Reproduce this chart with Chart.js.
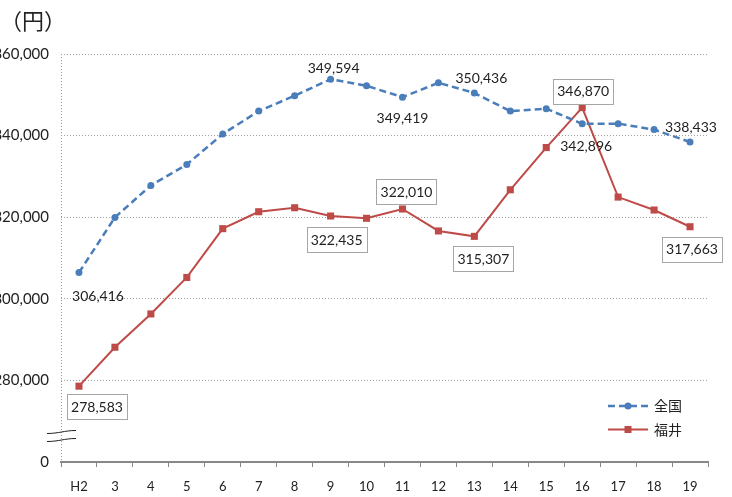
<!DOCTYPE html>
<html>
<head>
<meta charset="utf-8">
<script src="https://cdn.jsdelivr.net/npm/chart.js@4/dist/chart.umd.min.js"></script>
<style>
  html, body { margin:0; padding:0; background:#fff; }
  #wrap { position:relative; width:732px; height:497px; overflow:hidden; }
  #chart { position:absolute; left:0; top:0; }
  #unit { position:absolute; left:0; top:8px; font:22px/22px "Noto Sans CJK JP", sans-serif; color:#222; }
</style>
</head>
<body>
<div id="wrap">
  <canvas id="chart" width="732" height="497"></canvas>
  <div id="unit">（円）</div>
</div>
<script>
const categories = ['H2','3','4','5','6','7','8','9','10','11','12','13','14','15','16','17','18','19'];

// 全国 / 福井
const zenkokuValues = [306416, 319950, 327790, 332920, 340390, 346000, 349770, 353820, 352210, 349419, 352940, 350436, 346000, 346590, 342896, 342930, 341465, 338433];
const fukuiValues   = [278583, 288130, 296290, 305230, 317190, 321340, 322320, 320290, 319730, 322010, 316630, 315307, 326720, 337070, 346870, 324930, 321760, 317663];

// value labels shown on the chart (null = none)
const zenkokuTags = [306416, null, null, null, null, null, null, 349594, null, 349419, null, 350436, null, null, 342896, null, null, 338433];
const fukuiTags   = [278583, null, null, null, null, null, null, 322435, null, 322010, null, 315307, null, null, 346870, null, null, 317663];

const yTicks = [260000, 280000, 300000, 320000, 340000, 360000];

const BLUE = '#4A7EBB';
const RED  = '#BE4B48';

// label offsets from their point, in px
const tagOffsets = [
  { 0:[19,23], 7:[3,-12], 9:[0,20], 11:[7,-16], 14:[4,22], 17:[1,-16] },
  { 0:[18,20], 7:[6,23], 9:[4,-18], 11:[9,22], 14:[1,-17], 17:[2,22] }
];

Chart.defaults.font.family = 'Lato, "DejaVu Sans", sans-serif';
Chart.defaults.color = '#222';

const tagPlugin = {
  id: 'tags',
  afterDatasetsDraw(chart) {
    const ctx = chart.ctx;
    ctx.save();
    ctx.font = '14px Lato, "DejaVu Sans", sans-serif';
    ctx.textAlign = 'center';
    ctx.textBaseline = 'middle';
    chart.data.datasets.forEach((ds, di) => {
      const meta = chart.getDatasetMeta(di);
      ds.tags.forEach((t, i) => {
        if (t == null) return;
        const pt = meta.data[i];
        const off = tagOffsets[di][i] || [0, -15];
        const x = pt.x + off[0], y = pt.y + off[1];
        const txt = t.toLocaleString('en-US');
        if (ds.boxed) {
          ctx.fillStyle = '#fff';
          ctx.fillRect(x - 30, y - 12, 60, 25);
          ctx.strokeStyle = '#a6a6a6';
          ctx.lineWidth = 1;
          ctx.strokeRect(Math.round(x - 30) + 0.5, Math.round(y - 12) + 0.5, 60, 25);
        }
        ctx.fillStyle = '#222';
        ctx.fillText(txt, x, y + 1);
      });
    });
    ctx.restore();
  }
};

const decorPlugin = {
  id: 'decor',
  beforeDatasetsDraw(chart) {
    const { ctx, chartArea } = chart;
    // dotted value axis
    ctx.save();
    ctx.strokeStyle = '#999';
    ctx.lineWidth = 1;
    ctx.setLineDash([1, 2]);
    ctx.beginPath();
    ctx.moveTo(chartArea.left + 0.5, chartArea.top);
    ctx.lineTo(chartArea.left + 0.5, chartArea.bottom);
    ctx.stroke();
    ctx.restore();
  },
  afterDraw(chart) {
    const { ctx, chartArea } = chart;
    ctx.save();
    // axis break marks
    const l = chartArea.left - 14, r = chartArea.left + 15;
    [chartArea.bottom - 30, chartArea.bottom - 22].forEach(y => {
      ctx.strokeStyle = '#222';
      ctx.lineWidth = 1;
      ctx.beginPath();
      ctx.moveTo(l, y + 1.5);
      ctx.bezierCurveTo(l + 12, y + 1.5, l + 17, y - 1.5, r, y - 1.5);
      ctx.stroke();
    });
    // legend
    const lx = chartArea.right - 100;
    chart.data.datasets.forEach((ds, i) => {
      const y = chartArea.bottom - 56 + i * 23.5;
      ctx.strokeStyle = ds.borderColor;
      ctx.lineWidth = ds.borderWidth;
      ctx.setLineDash(ds.borderDash || []);
      ctx.beginPath();
      ctx.moveTo(lx, y);
      ctx.lineTo(lx + 40, y);
      ctx.stroke();
      ctx.setLineDash([]);
      ctx.fillStyle = ds.borderColor;
      if (ds.pointStyle === 'rect') {
        ctx.fillRect(lx + 16.5, y - 3.5, 7, 7);
      } else {
        ctx.beginPath();
        ctx.arc(lx + 20, y, 3.5, 0, Math.PI * 2);
        ctx.fill();
      }
      ctx.fillStyle = '#222';
      ctx.font = '14px "Noto Sans CJK JP", sans-serif';
      ctx.textBaseline = 'middle';
      ctx.textAlign = 'left';
      ctx.fillText(ds.label, lx + 46, y);
    });
    ctx.restore();
  }
};

new Chart(document.getElementById('chart'), {
  type: 'line',
  data: {
    labels: categories,
    datasets: [
      {
        label: '全国',
        data: zenkokuValues,
        tags: zenkokuTags,
        boxed: false,
        borderColor: BLUE,
        backgroundColor: BLUE,
        borderWidth: 2.5,
        borderDash: [7, 4],
        pointStyle: 'circle',
        pointRadius: 3.5,
        pointBorderWidth: 0,
        tension: 0
      },
      {
        label: '福井',
        data: fukuiValues,
        tags: fukuiTags,
        boxed: true,
        borderColor: RED,
        backgroundColor: RED,
        borderWidth: 2,
        pointStyle: 'rect',
        pointRadius: 5,
        pointBorderWidth: 0,
        tension: 0
      }
    ]
  },
  options: {
    responsive: false,
    animation: false,
    layout: { padding: { top: 54, right: 24, left: 0, bottom: 0 } },
    plugins: { legend: { display: false }, tooltip: { enabled: false } },
    scales: {
      x: {
        offset: true,
        grid: { offset: true, drawOnChartArea: false, drawTicks: true, tickLength: 5, color: '#888', lineWidth: 1 },
        border: { color: '#888', width: 2 },
        ticks: { padding: 12, font: { size: 13, family: '"Liberation Sans Narrow", Lato, sans-serif' }, color: '#222' },
        afterFit: s => { s.height = 35; }
      },
      y: {
        min: 260000,
        max: 360000,
        afterBuildTicks: s => { s.ticks = yTicks.map(v => ({ value: v })); },
        grid: { color: '#a0a0a0', lineWidth: 1, drawTicks: false },
        border: { display: false, dash: [1, 2] },
        ticks: {
          padding: 12,
          font: { size: 15 },
          color: '#222',
          callback: v => v === 260000 ? '0' : v.toLocaleString('en-US')
        },
        afterFit: s => { s.width = 61; }
      }
    }
  },
  plugins: [decorPlugin, tagPlugin]
});
</script>
</body>
</html>
